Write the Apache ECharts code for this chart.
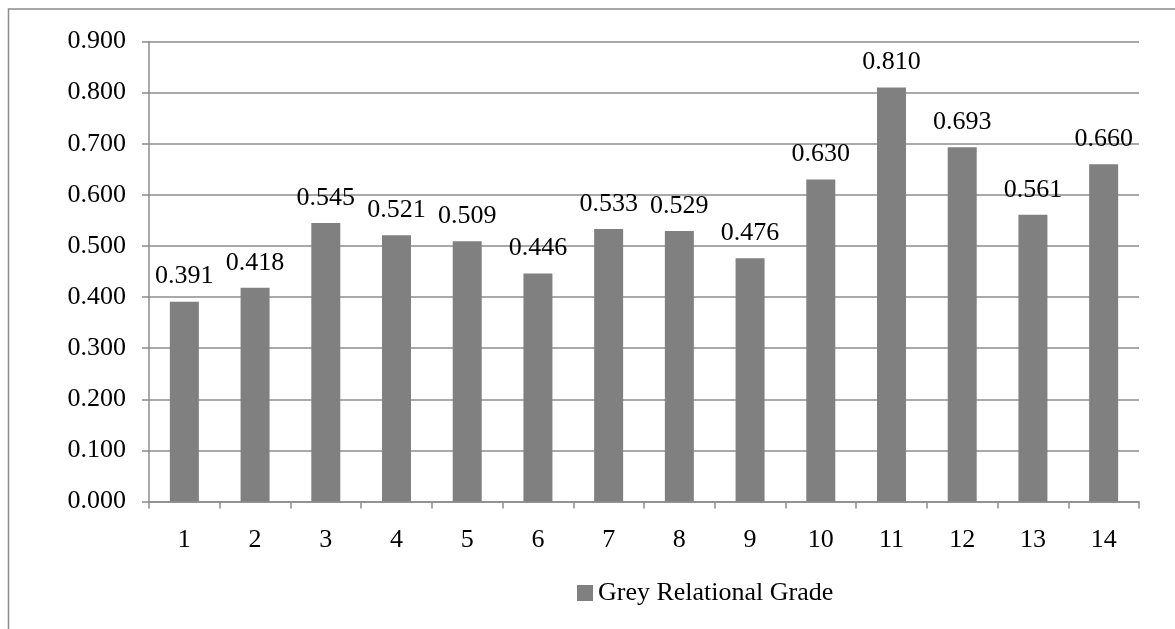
<!DOCTYPE html>
<html>
<head>
<meta charset="utf-8">
<script src="https://cdn.jsdelivr.net/npm/echarts@6/dist/echarts.min.js"></script>
<style>
  html, body { margin: 0; padding: 0; background: #fff; }
  #chart { width: 1175px; height: 629px; }
</style>
</head>
<body>
<div id="chart"></div>
<script>
// Experiment numbers along the x axis
const categories = ['1', '2', '3', '4', '5', '6', '7', '8', '9', '10', '11', '12', '13', '14'];
// Grey relational grade per experiment
const gradeValues = [0.391, 0.418, 0.545, 0.521, 0.509, 0.446, 0.533, 0.529, 0.476, 0.630, 0.810, 0.693, 0.561, 0.660];
const seriesName = 'Grey Relational Grade';

const FONT = '"Liberation Serif", "Times New Roman", serif';
const FONT_SIZE = 26;
const LINE = '#8c8c8c';
const BAR = '#808080';

const chart = echarts.init(document.getElementById('chart'), null, { renderer: 'canvas' });

chart.setOption({
  backgroundColor: '#ffffff',
  animation: false,
  textStyle: { fontFamily: FONT },
  graphic: [{
    // outer chart frame (runs past the right and bottom edges)
    type: 'rect',
    shape: { x: 8.5, y: 9, width: 1300, height: 800 },
    style: { fill: 'none', stroke: LINE, lineWidth: 1.5 },
    silent: true
  }],
  grid: { left: 149, right: 36, top: 41.5, bottom: 127.5, containLabel: false },
  legend: {
    data: [seriesName],
    left: 572,
    top: 575,
    padding: 5,
    itemWidth: 16,
    itemHeight: 16,
    itemGap: 6,
    icon: 'rect',
    textStyle: { fontFamily: FONT, fontSize: FONT_SIZE, color: '#000' }
  },
  xAxis: {
    type: 'category',
    data: categories,
    boundaryGap: true,
    axisLine: { show: true, lineStyle: { color: LINE, width: 1.5 } },
    axisTick: { show: true, alignWithLabel: false, inside: false, length: 7, lineStyle: { color: LINE, width: 1.5 } },
    axisLabel: { fontFamily: FONT, fontSize: FONT_SIZE, color: '#000', margin: 26 },
    splitLine: { show: false }
  },
  yAxis: {
    type: 'value',
    min: 0,
    max: 0.9,
    interval: 0.1,
    axisLine: { show: true, lineStyle: { color: LINE, width: 1.5 } },
    axisTick: { show: true, inside: false, length: 7, lineStyle: { color: LINE, width: 1.5 } },
    axisLabel: {
      fontFamily: FONT, fontSize: FONT_SIZE, color: '#000', margin: 23,
      formatter: v => v.toFixed(3)
    },
    splitLine: { show: true, lineStyle: { color: LINE, width: 1.5 } }
  },
  series: [{
    name: seriesName,
    type: 'bar',
    data: gradeValues,
    barWidth: '41%',
    itemStyle: { color: BAR },
    label: {
      show: true,
      position: 'top',
      distance: 12,
      fontFamily: FONT,
      fontSize: FONT_SIZE,
      color: '#000',
      formatter: p => p.value.toFixed(3)
    }
  }]
});
</script>
</body>
</html>
